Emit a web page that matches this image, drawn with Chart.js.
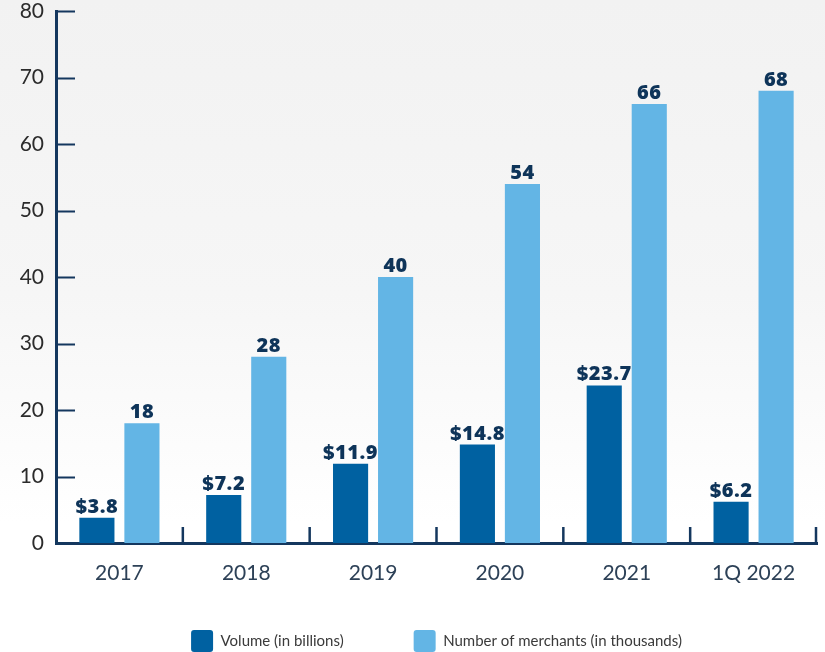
<!DOCTYPE html>
<html>
<head>
<meta charset="utf-8">
<script src="https://cdn.jsdelivr.net/npm/chart.js@4"></script>
<style>
  html, body { margin: 0; padding: 0; overflow: hidden; }
  body {
    width: 825px; height: 652px;
    background: linear-gradient(to bottom, #f2f2f2 0%, #f6f6f6 45%, #ffffff 80%);
  }
  #wrap { position: relative; width: 825px; height: 652px; }
</style>
</head>
<body>
<div id="wrap"><canvas id="grafico"></canvas></div>
<script>
const categorias = ["2017", "2018", "2019", "2020", "2021", "1Q 2022"];
const volume = [3.8, 7.2, 11.9, 14.8, 23.7, 6.2];
const comerciantes = [18, 28, 40, 54, 66, 68];
const rotulosVolume = ["$3.8", "$7.2", "$11.9", "$14.8", "$23.7", "$6.2"];
const rotulosComerciantes = ["18", "28", "40", "54", "66", "68"];

const AZUL_ESCURO = "#0061a1";
const AZUL_CLARO = "#63b5e5";
const EIXO = "#14375e";

// legend sits a bit higher than chart.js would put it
const posicaoLegenda = {
  id: "posicaoLegenda",
  afterLayout(chart) {
    const lg = chart.legend;
    if (!lg) return;
    lg.top = 630 - lg.options.labels.padding;
    lg.bottom = chart.height;
    lg.height = lg.bottom - lg.top;
  },
};

// small tick marks inside the plot + value labels on bars
const marcasEixos = {
  id: "marcasEixos",
  afterDatasetsDraw(chart) {
    const { ctx, chartArea, scales } = chart;
    const y = scales.y;
    const x = scales.x;
    ctx.save();
    ctx.strokeStyle = EIXO;
    ctx.lineWidth = 2;
    y.ticks.forEach((t) => {
      if (t.value === 0) return;
      const py = Math.round(y.getPixelForValue(t.value)) + 0.5;
      ctx.beginPath();
      ctx.moveTo(chartArea.left, py);
      ctx.lineTo(chartArea.left + 19, py);
      ctx.stroke();
    });
    ctx.lineWidth = 2.5;
    for (let i = 0; i < categorias.length; i++) {
      let px;
      if (i < categorias.length - 1) {
        px = (x.getPixelForValue(i) + x.getPixelForValue(i + 1)) / 2;
      } else {
        px = chartArea.right - 1;
      }
      ctx.beginPath();
      ctx.moveTo(px, chartArea.bottom);
      ctx.lineTo(px, chartArea.bottom - 16);
      ctx.stroke();
    }

    ctx.fillStyle = "#0e3459";
    ctx.font = "800 20px 'Open Sans', sans-serif";
    ctx.letterSpacing = "0.5px";
    ctx.textAlign = "center";
    ctx.textBaseline = "alphabetic";
    const rotulos = [rotulosVolume, rotulosComerciantes];
    chart.data.datasets.forEach((ds, d) => {
      chart.getDatasetMeta(d).data.forEach((bar, i) => {
        ctx.fillText(rotulos[d][i], bar.x, bar.y - 5);
      });
    });
    ctx.restore();
  },
};

const config = {
  type: "bar",
  data: {
    labels: categorias,
    datasets: [
      {
        label: "Volume (in billions)",
        data: volume,
        backgroundColor: AZUL_ESCURO,
        categoryPercentage: 0.71,
        barPercentage: 0.78,
      },
      {
        label: "Number of merchants (in thousands)",
        data: comerciantes,
        backgroundColor: AZUL_CLARO,
        categoryPercentage: 0.71,
        barPercentage: 0.78,
      },
    ],
  },
  options: {
    responsive: true,
    maintainAspectRatio: false,
    animation: false,
    layout: { padding: { top: 11, right: 8, left: 0, bottom: 0 } },
    plugins: {
      tooltip: { enabled: false },
      legend: {
        position: "bottom",
        fullSize: false,
        maxHeight: 64,
        labels: {
          boxWidth: 22,
          boxHeight: 22,
          padding: 70,
          useBorderRadius: true,
          borderRadius: 3,
          color: "#3a3a3a",
          font: { family: "Lato, sans-serif", size: 15 },
        },
      },
    },
    scales: {
      x: {
        grid: { display: false, drawTicks: false },
        border: { display: true, color: EIXO, width: 3 },
        ticks: {
          color: "#2d4157",
          padding: 18,
          font: { family: "Lato, sans-serif", size: 21 },
        },
        afterFit(scale) { scale.height = 45; },
      },
      y: {
        min: 0,
        max: 80,
        grid: { display: false, drawTicks: false },
        border: { display: true, color: EIXO, width: 3 },
        ticks: {
          stepSize: 10,
          color: "#2b2b2b",
          padding: 12,
          font: { family: "Lato, sans-serif", size: 21 },
        },
        afterFit(scale) {
          scale.width = 56;
          scale.paddingTop = 0;
        },
      },
    },
  },
  plugins: [marcasEixos, posicaoLegenda],
};

new Chart(document.getElementById("grafico"), config);
</script>
</body>
</html>
